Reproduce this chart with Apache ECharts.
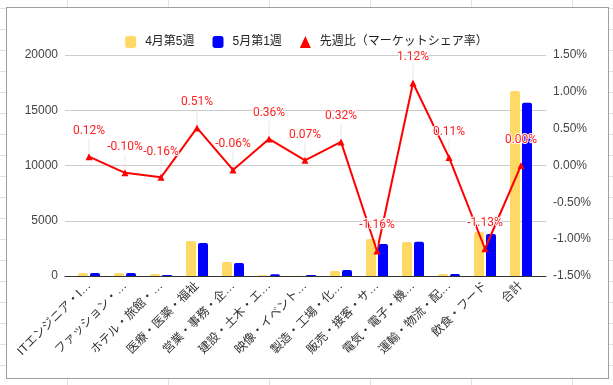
<!DOCTYPE html>
<html><head><meta charset="utf-8">
<script src="https://cdn.jsdelivr.net/npm/echarts@6/dist/echarts.min.js"></script>
<style>
html,body{margin:0;padding:0;width:613px;height:385px;overflow:hidden;background:#fff;}
#bg{position:absolute;left:0;top:0;width:613px;height:385px;}
#box{position:absolute;left:6px;top:7px;width:601px;height:370px;border:1px solid #9e9e9e;background:#fff;}
#chart{position:absolute;left:0;top:0;width:613px;height:385px;}
</style></head>
<body>
<div id="bg"></div>
<div id="box"></div>
<div id="chart"></div>
<script>
// ---- data ----
const categories = ["ITエンジニア・I…","ファッション・…","ホテル・旅館・…","医療・医薬・福祉","営業・事務・企…","建設・土木・エ…","映像・イベント…","製造・工場・化…","販売・接客・サ…","電気・電子・機…","運輸・物流・配…","飲食・フード","合計"];
const aprWeek5 = [270, 270, 180, 3170, 1270, 60, 20, 450, 3350, 3080, 180, 3980, 16740];
const mayWeek1 = [280, 270, 90, 2990, 1180, 160, 80, 540, 2900, 3100, 180, 3800, 15680];
const weekRatio = [0.12, -0.10, -0.16, 0.51, -0.06, 0.36, 0.07, 0.32, -1.16, 1.12, 0.11, -1.13, 0.00];
const seriesNames = ["4月第5週", "5月第1週", "先週比（マーケットシェア率）"];
const leftTicks = {min: 0, max: 20000, interval: 5000};
const rightTicks = {min: -1.5, max: 1.5, interval: 0.5};

// ---- spreadsheet background lines (decoration) ----
const bg = document.getElementById('bg');
for (let y = 8; y < 385; y += 21) {
  const d = document.createElement('div');
  d.style.cssText = 'position:absolute;left:0;width:613px;height:1px;background:#e2e2e2;top:' + y + 'px';
  bg.appendChild(d);
}
for (let x = 67; x < 613; x += 101) {
  const d = document.createElement('div');
  d.style.cssText = 'position:absolute;top:0;height:385px;width:1px;background:#e2e2e2;left:' + x + 'px';
  bg.appendChild(d);
}

const FONT = "Arial, 'Liberation Sans', 'Noto Sans CJK JP', sans-serif";
const chart = echarts.init(document.getElementById('chart'), null, {renderer: 'canvas'});
chart.setOption({
  backgroundColor: 'transparent',
  animation: false,
  textStyle: {fontFamily: FONT},
  legend: {
    top: 31, left: 'center',
    itemWidth: 11, itemHeight: 12, itemGap: 18,
    textStyle: {fontSize: 12, color: '#222', fontFamily: FONT, padding: [0, 0, 0, 4]},
    data: [
      {name: seriesNames[0], icon: 'roundRect'},
      {name: seriesNames[1], icon: 'roundRect'},
      {name: seriesNames[2], icon: 'triangle'}
    ]
  },
  grid: [
    {left: 65, right: 67, top: 55, bottom: 109},
    {left: 71, right: 74, top: 55, bottom: 109}
  ],
  xAxis: [
    {gridIndex: 0, type: 'category', data: [''], axisLine: {show: true, lineStyle: {color: '#333', width: 1}}, axisTick: {show: false}, axisLabel: {show: false}, splitLine: {show: false}},
    {gridIndex: 1, type: 'category', data: categories, axisLine: {show: false}, axisTick: {show: false},
      axisLabel: {rotate: 45, interval: 0, fontSize: 12, color: '#333', fontFamily: FONT, margin: 8}}
  ],
  yAxis: [
    {gridIndex: 0, type: 'value', position: 'left', min: leftTicks.min, max: leftTicks.max, interval: leftTicks.interval,
      axisLine: {show: false}, axisTick: {show: false},
      axisLabel: {fontSize: 12, color: '#444', margin: 7, fontFamily: FONT, formatter: v => String(v)},
      splitLine: {show: true, lineStyle: {color: '#cccccc', width: 1}}},
    {gridIndex: 0, type: 'value', position: 'right', min: rightTicks.min, max: rightTicks.max, interval: rightTicks.interval,
      axisLine: {show: false}, axisTick: {show: false},
      axisLabel: {fontSize: 12, color: '#444', margin: 7, fontFamily: FONT, formatter: v => v.toFixed(2) + '%'},
      splitLine: {show: false}},
    {gridIndex: 1, type: 'value', show: false, min: leftTicks.min, max: leftTicks.max, interval: leftTicks.interval, splitLine: {show: false}},
    {gridIndex: 1, type: 'value', show: false, position: 'right', min: rightTicks.min, max: rightTicks.max, interval: rightTicks.interval, splitLine: {show: false}}
  ],
  series: [
    {name: seriesNames[0], type: 'bar', xAxisIndex: 1, yAxisIndex: 2, data: aprWeek5, barWidth: 10, barGap: '20%',
      itemStyle: {color: '#ffd966', borderRadius: [2, 2, 0, 0]}},
    {name: seriesNames[1], type: 'bar', xAxisIndex: 1, yAxisIndex: 2, data: mayWeek1, barWidth: 10, barGap: '20%',
      itemStyle: {color: '#0000ff', borderRadius: [2, 2, 0, 0]}},
    {name: seriesNames[2], type: 'line', xAxisIndex: 1, yAxisIndex: 3, data: weekRatio, z: 5,
      symbol: 'triangle', symbolSize: 7, showAllSymbol: true,
      lineStyle: {color: '#ff0000', width: 2}, itemStyle: {color: '#ff0000'},
      label: {show: true, position: 'top', distance: 4, color: '#ff2020', fontSize: 12,
        fontFamily: "Roboto, Arial, sans-serif", textBorderColor: '#fff', textBorderWidth: 2,
        formatter: p => p.value.toFixed(2) + '%'},
      labelLayout: {dy: -12},
      labelLine: {show: true, lineStyle: {color: '#e8e8e8', width: 1}}
    }
  ]
});
</script>
</body></html>
